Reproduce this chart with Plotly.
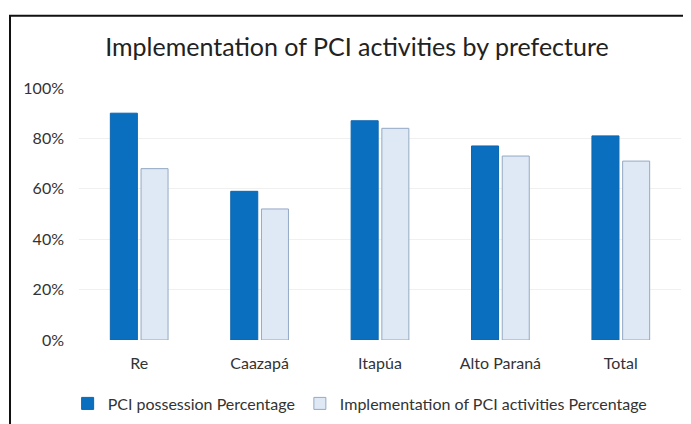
import plotly.graph_objects as go

prefecturas = ["Re", "Caazapá", "Itapúa", "Alto Paraná", "Total"]
posesion = [0.90, 0.59, 0.87, 0.77, 0.81]
implementacion = [0.68, 0.52, 0.84, 0.73, 0.71]

fuente = "Lato, 'Open Sans', sans-serif"

fig = go.Figure()
fig.add_trace(go.Bar(x=prefecturas, y=posesion, name="PCI possession Percentage",
                     marker=dict(color="#0b6fc0", line=dict(color="#0a66b0", width=1))))
fig.add_trace(go.Bar(x=prefecturas, y=implementacion, name="Implementation of PCI activities Percentage",
                     marker=dict(color="#dfe9f5", line=dict(color="#93a9c4", width=1))))

# la página html tiene 8px de margen, se compensa aquí
fig.update_layout(
    width=691, height=424,
    margin=dict(l=71, r=18, t=80, b=90),
    paper_bgcolor="white", plot_bgcolor="white",
    title=dict(text="Implementation of PCI activities by prefecture", x=0.505, xanchor="center",
               y=0.908, yanchor="middle", font=dict(family=fuente, size=25, color="#222222")),
    font=dict(family=fuente, size=16, color="#333333"),
    barmode="group", bargap=0.49, bargroupgap=0.12,
    showlegend=True,
    legend=dict(orientation="h", x=0.467, xanchor="center", y=-0.252, yanchor="middle",
                font=dict(size=16, color="#333333"), itemwidth=30),
)
fig.update_yaxes(range=[0, 1], tickvals=[0, 0.2, 0.4, 0.6, 0.8, 1.0], tickformat=".0%",
                 showgrid=True, gridcolor="#f0f0f0", zeroline=False, showline=False, ticks="",
                 ticklabelstandoff=14)
fig.update_xaxes(showline=False, ticks="", showgrid=False, ticklabelstandoff=12)

# marco del gráfico
fig.add_shape(type="rect", xref="paper", yref="paper", x0=-0.1146, x1=1.2, y0=-0.6, y1=1.287,
              line=dict(color="#111111", width=2), fillcolor="rgba(0,0,0,0)", layer="above")

fig.write_html("out.html")
